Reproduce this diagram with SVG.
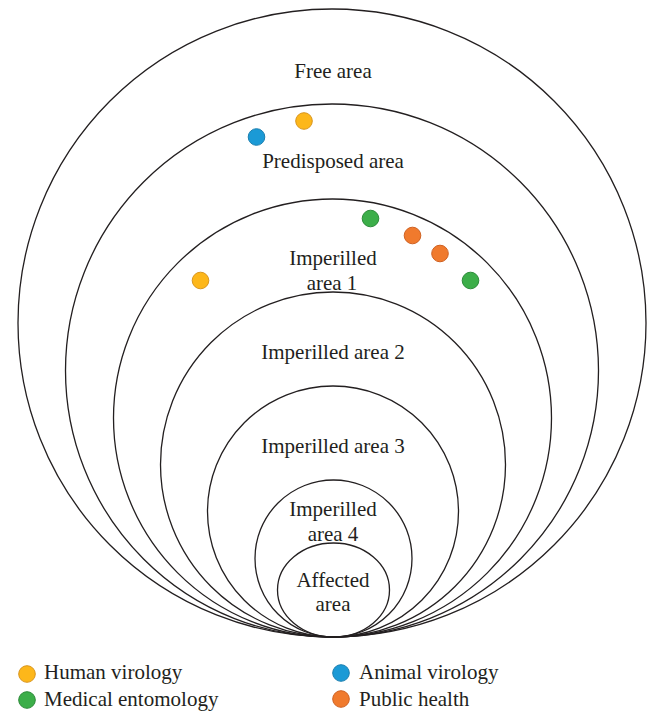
<svg xmlns="http://www.w3.org/2000/svg" width="648" height="711" viewBox="0 0 648 711">
<style>
.ring{fill:none;stroke:#231f20;stroke-width:1.3}
text{font-family:"Liberation Serif","Times New Roman",serif;font-size:21px;fill:#231f20}
.c{text-anchor:middle}
.y{fill:#fdb71a;stroke:#d9951c;stroke-width:1}
.b{fill:#1b9ad6;stroke:#1a7fb0;stroke-width:1}
.g{fill:#3cae49;stroke:#2b8a38;stroke-width:1}
.o{fill:#f07a2d;stroke:#cf6020;stroke-width:1}
</style>
<rect width="648" height="711" fill="#fff"/>
<g id="free-area">
<circle class="ring" cx="332" cy="323" r="314"/>
<text class="c" x="333" y="78">Free area</text>
</g>
<g id="predisposed-area">
<circle class="ring" cx="332" cy="370.5" r="266.5"/>
<text class="c" x="333" y="168">Predisposed area</text>
</g>
<g id="imperilled-area-1">
<circle class="ring" cx="332.5" cy="418" r="219"/>
<text class="c" x="333" y="265">Imperilled</text>
<text class="c" x="332" y="290">area 1</text>
</g>
<g id="imperilled-area-2">
<circle class="ring" cx="333" cy="464.5" r="172.5"/>
<text class="c" x="333" y="359">Imperilled area 2</text>
</g>
<g id="imperilled-area-3">
<circle class="ring" cx="333" cy="511.5" r="125.5"/>
<text class="c" x="333" y="453">Imperilled area 3</text>
</g>
<g id="imperilled-area-4">
<circle class="ring" cx="333.5" cy="558.5" r="78.5"/>
<text class="c" x="333" y="516">Imperilled</text>
<text class="c" x="333" y="541">area 4</text>
</g>
<g id="affected-area">
<ellipse class="ring" cx="333.5" cy="590" rx="56" ry="47"/>
<text class="c" x="333" y="587">Affected</text>
<text class="c" x="333" y="611">area</text>
</g>
<g id="markers">
<circle class="b" cx="256.5" cy="137" r="8.3"/>
<circle class="y" cx="304" cy="121" r="8.3"/>
<circle class="g" cx="370.5" cy="218.5" r="8.3"/>
<circle class="o" cx="412.5" cy="235.5" r="8.3"/>
<circle class="o" cx="440" cy="253.5" r="8.3"/>
<circle class="g" cx="470.5" cy="280.5" r="8.3"/>
<circle class="y" cx="200.5" cy="280.5" r="8.3"/>
</g>
<g id="legend">
<circle class="y" cx="27" cy="674" r="8.3"/>
<text x="44" y="679">Human virology</text>
<circle class="g" cx="27" cy="700" r="8.3"/>
<text x="44" y="706">Medical entomology</text>
<circle class="b" cx="341" cy="673" r="8.3"/>
<text x="359" y="679">Animal virology</text>
<circle class="o" cx="341" cy="699" r="8.3"/>
<text x="359" y="706">Public health</text>
</g>
</svg>
